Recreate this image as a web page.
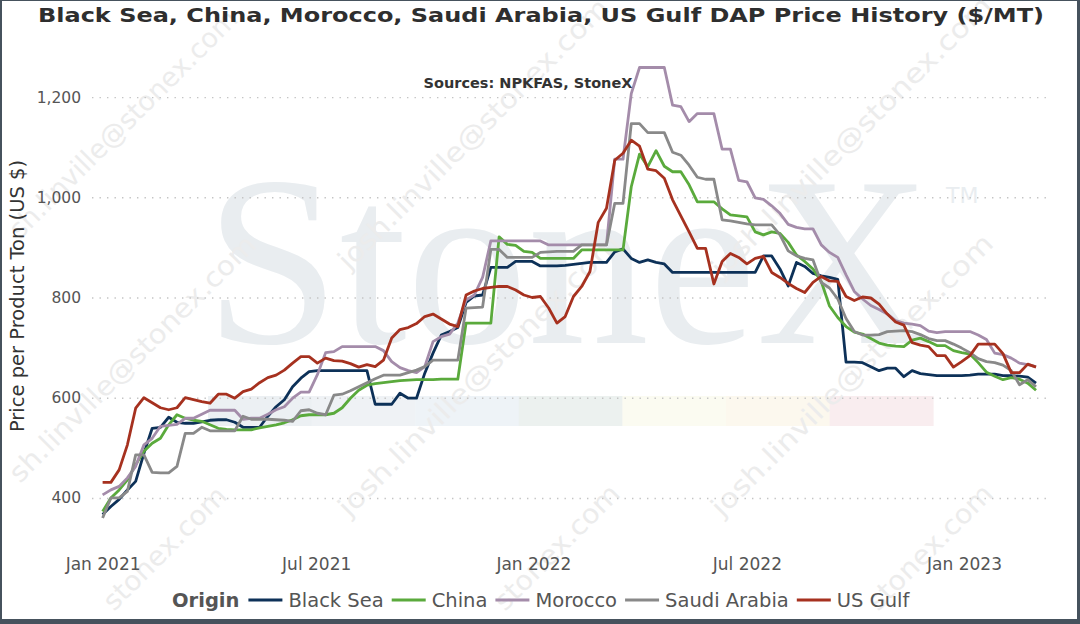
<!DOCTYPE html>
<html>
<head>
<meta charset="utf-8">
<script src="https://cdn.jsdelivr.net/npm/d3@7"></script>
<style>
  body { margin: 0; background: #fff; }
  svg { display: block; }
  text { font-family: "DejaVu Sans", Verdana, sans-serif; }
</style>
</head>
<body>
<div id="chart"></div>
<script>
// weekly price points, one per Friday
var weekDates = [
  "2021-01-01", "2021-01-08", "2021-01-15", "2021-01-22", "2021-01-29", "2021-02-05", "2021-02-12", "2021-02-19",
  "2021-02-26", "2021-03-05", "2021-03-12", "2021-03-19", "2021-03-26", "2021-04-02", "2021-04-09", "2021-04-16",
  "2021-04-23", "2021-04-30", "2021-05-07", "2021-05-14", "2021-05-21", "2021-05-28", "2021-06-04", "2021-06-11",
  "2021-06-18", "2021-06-25", "2021-07-02", "2021-07-09", "2021-07-16", "2021-07-23", "2021-07-30", "2021-08-06",
  "2021-08-13", "2021-08-20", "2021-08-27", "2021-09-03", "2021-09-10", "2021-09-17", "2021-09-24", "2021-10-01",
  "2021-10-08", "2021-10-15", "2021-10-22", "2021-10-29", "2021-11-05", "2021-11-12", "2021-11-19", "2021-11-26",
  "2021-12-03", "2021-12-10", "2021-12-17", "2021-12-24", "2021-12-31",
  "2022-01-07", "2022-01-14", "2022-01-21", "2022-01-28", "2022-02-04", "2022-02-11", "2022-02-18", "2022-02-25",
  "2022-03-04", "2022-03-11", "2022-03-18", "2022-03-25", "2022-04-01", "2022-04-08", "2022-04-15", "2022-04-22",
  "2022-04-29", "2022-05-06", "2022-05-13", "2022-05-20", "2022-05-27", "2022-06-03", "2022-06-10", "2022-06-17",
  "2022-06-24", "2022-07-01", "2022-07-08", "2022-07-15", "2022-07-22", "2022-07-29", "2022-08-05", "2022-08-12",
  "2022-08-19", "2022-08-26", "2022-09-02", "2022-09-09", "2022-09-16", "2022-09-23", "2022-09-30", "2022-10-07",
  "2022-10-14", "2022-10-21", "2022-10-28", "2022-11-04", "2022-11-11", "2022-11-18", "2022-11-25", "2022-12-02",
  "2022-12-09", "2022-12-16", "2022-12-23", "2022-12-30",
  "2023-01-06", "2023-01-13", "2023-01-20", "2023-01-27", "2023-02-03", "2023-02-10", "2023-02-17", "2023-02-24",
  "2023-03-03"
];

var blackSea = [
  367, 383, 397, 416, 433, 489, 539, 541, 561, 551,
  549, 549, 552, 555, 556, 556, 551, 541, 541, 541,
  563, 582, 596, 622, 639, 652, 654, 654, 654, 654,
  654, 654, 654, 587, 587, 587, 609, 599, 599, 649,
  689, 725, 732, 740, 790, 803, 805, 860, 860, 860,
  872, 872, 872, 863, 863, 863, 864, 866, 868, 870,
  870, 870, 891, 897, 878, 870, 875, 870, 867, 850,
  850, 850, 850, 850, 850, 850, 850, 850, 850, 850,
  883, 883, 857, 823, 870, 862, 848, 843, 840, 836,
  671, 671, 670, 662, 654, 659, 659, 642, 654, 648,
  646, 644, 644, 644, 644, 645, 647, 647, 647, 644,
  644, 643, 641, 629
];

var china = [
  373, 400, 416, 436, 466, 493, 509, 519, 546, 566,
  559, 555, 553, 546, 539, 537, 536, 536, 536, 540,
  543, 546, 550, 556, 564, 566, 566, 566, 569, 580,
  599, 615, 625, 628, 630, 632, 634, 635, 636, 636,
  636, 637, 637, 637, 749, 749, 749, 749, 921, 906,
  904, 892, 890, 878, 878, 878, 878, 878, 895, 895,
  895, 895, 895, 895, 1021, 1086, 1061, 1093, 1062, 1051,
  1051, 1025, 991, 991, 991, 977, 965, 963, 961, 931,
  925, 931, 928, 910, 885, 872, 857, 832, 783, 760,
  742, 731, 727, 718, 709, 705, 703, 702, 715, 719,
  712, 704, 704, 694, 690, 687, 670, 651, 643, 636,
  640, 637, 629, 615
];

var morocco = [
  406, 416, 423, 440, 463, 506, 519, 543, 545, 547,
  559, 559, 567, 575, 575, 575, 575, 557, 559, 559,
  567, 576, 582, 599, 611, 611, 646, 690, 692, 702,
  702, 702, 702, 702, 694, 672, 660, 654, 650, 662,
  712, 722, 727, 749, 795, 805, 840, 913, 913, 913,
  913, 913, 913, 913, 905, 905, 905, 905, 905, 905,
  905, 905, 1076, 1076, 1207, 1259, 1259, 1259, 1259, 1184,
  1181, 1151, 1167, 1167, 1167, 1096, 1096, 1034, 1031, 999,
  996, 983, 968, 946, 940, 937, 937, 905, 890, 880,
  845, 812, 797, 784, 776, 767, 754, 749, 747, 744,
  733, 730, 732, 732, 732, 732, 725, 716, 689, 686,
  679, 669, 666, 662
];

var saudiArabia = [
  360, 400, 400, 413, 486, 486, 451, 450, 450, 463,
  529, 529, 541, 534, 534, 534, 534, 563, 557, 557,
  557, 556, 555, 553, 574, 576, 569, 566, 605, 607,
  614, 622, 630, 638, 645, 645, 645, 650, 655, 662,
  675, 675, 675, 675, 779, 780, 781, 896, 896, 880,
  880, 880, 880, 890, 891, 892, 892, 892, 905, 905,
  905, 905, 988, 988, 1147, 1147, 1129, 1129, 1129, 1090,
  1084, 1064, 1040, 1036, 1036, 955, 953, 950, 947, 945,
  945, 945, 925, 893, 883, 878, 875, 830, 819, 797,
  758, 732, 725, 725, 726, 732, 733, 734, 732, 726,
  718, 714, 714, 707, 699, 690, 678, 672, 670, 665,
  654, 626, 636, 622
];

var usGulf = [
  431, 431, 456, 506, 579, 600, 590, 580, 576, 580,
  600, 596, 592, 589, 607, 607, 599, 612, 617, 630,
  640, 645, 655, 669, 682, 682, 669, 679, 674, 673,
  668, 661, 666, 662, 675, 719, 736, 740, 748, 762,
  767, 757, 747, 742, 805, 813, 818, 820, 822, 822,
  815, 805, 800, 802, 779, 749, 762, 802, 822, 852,
  950, 978, 1074, 1088, 1114, 1102, 1056, 1053, 1038, 995,
  963, 931, 898, 898, 827, 872, 888, 880, 867, 878,
  882, 850, 840, 828, 818, 810, 830, 842, 833, 832,
  802, 794, 801, 799, 787, 767, 751, 745, 710, 705,
  702, 684, 684, 661, 672, 684, 707, 707, 707, 688,
  650, 650, 667, 661
];

var origins = ["Black Sea", "China", "Morocco", "Saudi Arabia", "US Gulf"];
var originValues = [blackSea, china, morocco, saudiArabia, usGulf];
var originColors = ["#0d3158", "#5aaa3c", "#a48caa", "#898989", "#a6311f"];

var yTicks = [400, 600, 800, 1000, 1200];
var xTicks = ["2021-01-01", "2021-07-01", "2022-01-01", "2022-07-01", "2023-01-01"];

var width = 1080;
var height = 624;
var plot = { left: 92, right: 1049, top: 57, bottom: 533 };

var parseDate = d3.timeParse("%Y-%m-%d");

var svg = d3
  .select("#chart")
  .append("svg")
  .attr("width", width)
  .attr("height", height);

// frame
svg.append("rect").attr("width", width).attr("height", height).attr("fill", "#46525d");
svg.append("rect").attr("x", 2).attr("y", 1).attr("width", width - 5).attr("height", height - 6).attr("fill", "#fff");

var xScale = d3
  .scaleTime()
  .domain([parseDate("2020-12-23"), parseDate("2023-03-14")])
  .range([plot.left, plot.right]);

var yScale = d3
  .scaleLinear()
  .domain([330, 1280])
  .range([plot.bottom, plot.top]);

// big logo watermark
var wm = svg.append("g").attr("class", "watermark");
wm.append("text")
  .attr("x", 205)
  .attr("y", 343)
  .style("font-family", "'Liberation Serif', 'Times New Roman', serif")
  .style("font-size", "242px")
  .attr("fill", "#e9edf0")
  .text("StoneX");
wm.append("text")
  .attr("x", 946)
  .attr("y", 203)
  .style("font-size", "22px")
  .attr("fill", "#e9edf0")
  .text("TM");

var bandColors = ["#ecf0f3", "#eff2f5", "#eef3f7", "#ecf1ef", "#fbfbf1", "#fcf8ee", "#f9edef"];
wm.selectAll("band")
  .data(bandColors)
  .enter()
  .append("rect")
  .attr("x", function(d, i) {
    return 208 + i * 103.6;
  })
  .attr("y", 396)
  .attr("width", 104)
  .attr("height", 30)
  .attr("fill", function(d) {
    return d;
  });

// email watermark pieces: [text, x, y, length along the diagonal]
var stamps = [
  ["sh.linville@stonex.com", 20, 240, 310],
  ["sh.linville@stonex.com", 20, 484, 336],
  ["stonex.com", 114, 612, 162],
  ["josh.linville@stonex.com", 349, 271, 370],
  ["josh.linville@stonex.com", 349, 518, 386],
  ["stonex.com", 505, 612, 165],
  ["josh.linville@stonex.com", 722, 279, 384],
  ["josh.linville@stonex.com", 722, 518, 386],
  ["stonex.com", 878, 612, 165]
];
stamps.forEach(function(s) {
  wm.append("text")
    .attr("transform", "translate(" + s[1] + "," + s[2] + ") rotate(-45)")
    .attr("textLength", s[3])
    .attr("lengthAdjust", "spacingAndGlyphs")
    .style("font-size", "27px")
    .attr("fill", "#ececec")
    .text(s[0]);
});

// y grid + labels
var yAxis = d3
  .axisLeft(yScale)
  .tickValues(yTicks)
  .tickFormat(d3.format(","))
  .tickSize(-(plot.right - plot.left))
  .tickPadding(11);

var yG = svg
  .append("g")
  .attr("transform", "translate(" + plot.left + ",0)")
  .call(yAxis);
yG.select(".domain").remove();
yG.selectAll(".tick line")
  .attr("stroke", "#c4c4c4")
  .attr("stroke-width", 1.4)
  .attr("stroke-dasharray", "1.4,6.1");
yG.selectAll(".tick text")
  .style("font-size", "15.5px")
  .attr("fill", "#555");

// x axis labels
var xAxis = d3
  .axisBottom(xScale)
  .tickValues(xTicks.map(parseDate))
  .tickFormat(d3.timeFormat("%b %Y"))
  .tickSize(0)
  .tickPadding(0);

var xG = svg
  .append("g")
  .attr("transform", "translate(0,570)")
  .call(xAxis);
xG.select(".domain").remove();
xG.selectAll(".tick text")
  .attr("dy", 0)
  .style("font-size", "17px")
  .attr("fill", "#555");

// lines
var line = d3
  .line()
  .x(function(d) {
    return xScale(d.date);
  })
  .y(function(d) {
    return yScale(d.value);
  });

origins.forEach(function(name, k) {
  var points = originValues[k].map(function(v, i) {
    return { date: parseDate(weekDates[i]), value: v };
  });
  svg
    .append("path")
    .datum(points)
    .attr("fill", "none")
    .attr("stroke", originColors[k])
    .attr("stroke-width", 2.8)
    .attr("stroke-linejoin", "round")
    .attr("d", line);
});

// titles
svg
  .append("text")
  .attr("x", 38)
  .attr("y", 22)
  .attr("textLength", 1006)
  .attr("lengthAdjust", "spacingAndGlyphs")
  .style("font-size", "20px")
  .style("font-weight", "bold")
  .attr("fill", "#2e2e2e")
  .text("Black Sea, China, Morocco, Saudi Arabia, US Gulf DAP Price History ($/MT)");

svg
  .append("text")
  .attr("x", 528)
  .attr("y", 88)
  .attr("text-anchor", "middle")
  .style("font-size", "14.5px")
  .style("font-weight", "bold")
  .attr("fill", "#333")
  .text("Sources: NPKFAS, StoneX");

svg
  .append("text")
  .attr("transform", "translate(24,296) rotate(-90)")
  .attr("text-anchor", "middle")
  .style("font-size", "19.5px")
  .attr("fill", "#333")
  .text("Price per Product Ton (US $)");

// legend
var legend = svg.append("g").attr("transform", "translate(0,607)");
var lx = 172;
var originLabel = legend
  .append("text")
  .attr("x", lx)
  .style("font-size", "19.5px")
  .style("font-weight", "bold")
  .attr("fill", "#555")
  .text("Origin");
lx += originLabel.node().getComputedTextLength() + 9;

origins.forEach(function(name, k) {
  legend
    .append("line")
    .attr("x1", lx)
    .attr("x2", lx + 34)
    .attr("y1", -7)
    .attr("y2", -7)
    .attr("stroke", originColors[k])
    .attr("stroke-width", 3);
  lx += 40;
  var t = legend
    .append("text")
    .attr("x", lx)
    .style("font-size", "19.5px")
    .attr("fill", "#555")
    .text(name);
  lx += t.node().getComputedTextLength() + 8;
});
</script>
</body>
</html>
